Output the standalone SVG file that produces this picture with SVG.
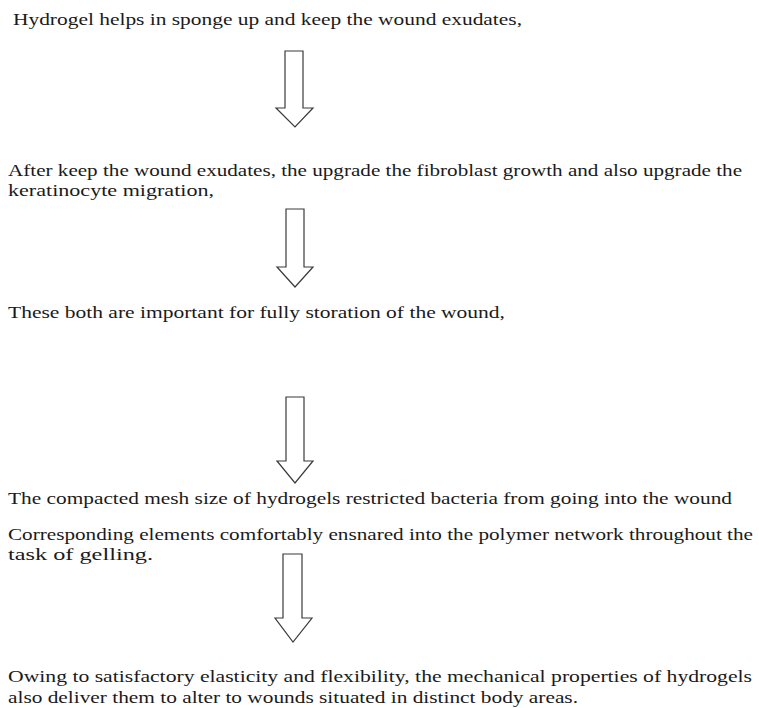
<svg xmlns="http://www.w3.org/2000/svg" width="759" height="708" viewBox="0 0 759 708">
<style>
text { font-family: 'Liberation Serif', 'Times New Roman', 'DejaVu Serif', serif; font-size: 16px; fill: #1a1a1a; }
.arrow { fill: #ffffff; stroke: #3a3a3a; stroke-width: 1.2; stroke-linejoin: miter; }
</style>
<rect width="759" height="708" fill="#ffffff"/>
<g font-family="Liberation Serif, DejaVu Serif, serif">
<g id="node1">
<text x="13" y="25" textLength="509" lengthAdjust="spacingAndGlyphs">Hydrogel helps in sponge up and keep the wound exudates,</text>
</g>
<g id="node2">
<text x="8" y="176" textLength="734" lengthAdjust="spacingAndGlyphs">After keep the wound exudates, the upgrade the fibroblast growth and also upgrade the</text>
<text x="8" y="196" textLength="206" lengthAdjust="spacingAndGlyphs">keratinocyte migration,</text>
</g>
<g id="node3">
<text x="8" y="318" textLength="497" lengthAdjust="spacingAndGlyphs">These both are important for fully storation of the wound,</text>
</g>
<g id="node4">
<text x="8" y="504" textLength="724" lengthAdjust="spacingAndGlyphs">The compacted mesh size of hydrogels restricted bacteria from going into the wound</text>
</g>
<g id="node5">
<text x="8" y="540" textLength="745" lengthAdjust="spacingAndGlyphs">Corresponding elements comfortably ensnared into the polymer network throughout the</text>
<text x="8" y="560" textLength="145" lengthAdjust="spacingAndGlyphs">task of gelling.</text>
</g>
<g id="node6">
<text x="8" y="682" textLength="744" lengthAdjust="spacingAndGlyphs">Owing to satisfactory elasticity and flexibility, the mechanical properties of hydrogels</text>
<text x="8" y="703" textLength="570" lengthAdjust="spacingAndGlyphs">also deliver them to alter to wounds situated in distinct body areas.</text>
</g>
</g>
<g id="connectors">
<polygon class="arrow" points="285,51 303,51 303,108 313,108 295,127 276,108 285,108"/>
<polygon class="arrow" points="286,209 304,209 304,267 313,267 295,287 277,267 286,267"/>
<polygon class="arrow" points="286,397 304,397 304,461 313,461 295,483 277,461 286,461"/>
<polygon class="arrow" points="283,554 302,554 302,618 312,618 293,642 275,618 283,618"/>
</g>
</svg>
